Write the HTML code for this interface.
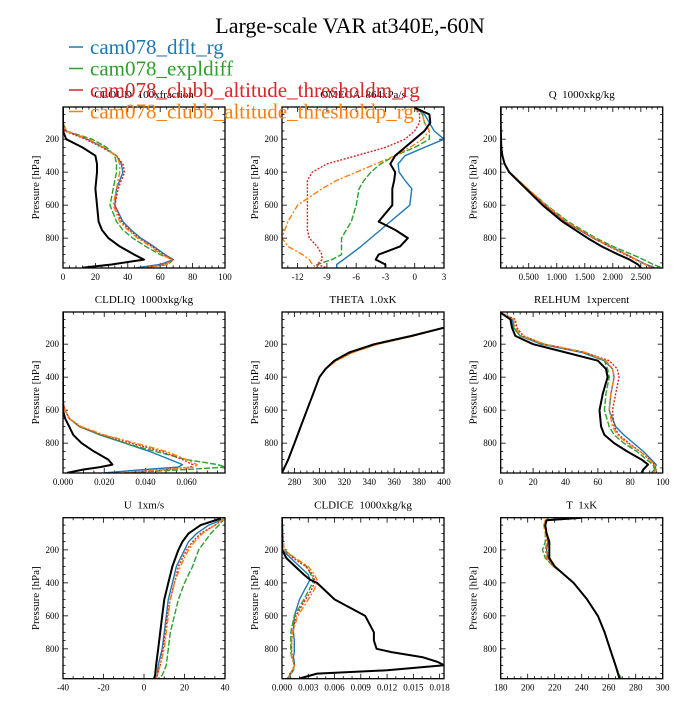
<!DOCTYPE html>
<html><head><meta charset="utf-8"><style>
body{margin:0;background:#fff;width:700px;height:700px;overflow:hidden}
svg{font-family:"Liberation Serif",serif}
text{white-space:pre}
</style></head><body>
<svg id="c" width="700" height="700">
<text x="350" y="33" font-size="22" text-anchor="middle">Large-scale VAR at340E,-60N</text>
</svg>
<script>
const seriesNames=["cam078_dflt_rg","cam078_expldiff","cam078_clubb_altitude_thresholdm_rg","cam078_clubb_altitude_thresholdp_rg","obs"];
const colors=["#1f77b4","#2ca02c","#d62728","#ff7f0e","#000"];
const dashes=["","6,2","2,1.5","6,2,2,2",""];

const cloudLev=[10,100,150,200,250,300,350,400,500,600,700,750,800,850,900,930,960,980];
const cloudBlue=[0,0,2,15,25,33,36,37,33,32,37,42,48,56,63,68,60,45];
const cloudGreen=[0,0,2,18,27,32,33,33,31,29,33,37,43,51,60,68,65,50];
const cloudRed=[0,0,1,14,24,33,37,38,34,32,36,41,47,55,62,68,62,50];
const cloudOrange=[0,0,2,16,25,33,35,35,33,31,35,40,46,54,61,67,64,50];
const cloudBlack=[0,0,0,2,12,20,21,21,20,21,22,24,28,35,44,50,30,12];

const omegaLev=[10,50,100,150,200,250,300,350,400,450,500,600,700,750,800,850,900,930,960,980];
const omegaBlue=[0,1,1.5,2,3,1,-1,-1.7,-1.6,-1,-0.3,-0.5,-2.5,-3.5,-4.5,-5.5,-6.6,-7.3,-8,-8];
const omegaGreen=[0,0.8,1,1.5,1.5,0,-2,-3.5,-4.5,-5.2,-5.7,-6,-6.5,-7,-7.5,-7.5,-7.5,-8.5,-10,-10];
const omegaRed=[0,0.5,0.5,0,-1,-3,-6,-9,-10.5,-11,-11,-11,-11,-11,-10.8,-10,-9.5,-9.5,-10,-9];
const omegaOrange=[0,0.8,1,1.5,0.8,-0.5,-2,-4,-6,-8,-9.5,-12,-13,-13.3,-13.6,-13,-11.5,-10.8,-10.5,-10];
const omegaBlack=[0,1.5,1.6,1,0,-1,-2,-2.5,-2,-2.1,-2.3,-2.3,-3.7,-2,-0.7,-1.5,-3.7,-4,-3,-3];

const qLev=[10,100,200,250,300,350,400,500,600,700,800,850,900,930,960,980];
const qBlue=[0,0,0.005,0.01,0.03,0.07,0.16,0.47,0.8,1.15,1.65,1.95,2.25,2.42,2.6,2.75];
const qGreen=[0,0,0.005,0.01,0.03,0.07,0.16,0.48,0.82,1.2,1.7,2.0,2.35,2.55,2.72,2.88];
const qRed=[0,0,0.005,0.01,0.03,0.07,0.16,0.47,0.8,1.15,1.65,1.93,2.22,2.4,2.58,2.72];
const qOrange=[0,0,0.005,0.01,0.03,0.07,0.16,0.48,0.81,1.17,1.67,1.95,2.25,2.42,2.58,2.7];
const qBlack=[0,0,0.005,0.01,0.03,0.07,0.15,0.45,0.75,1.1,1.55,1.8,2.1,2.3,2.45,2.5];

const liqLev=[10,550,600,650,700,750,800,850,900,930,945,960,980];
const liqBlue=[0,0,0.001,0.003,0.008,0.018,0.03,0.042,0.052,0.058,0.056,0.04,0.02];
const liqGreen=[0,0,0.001,0.003,0.008,0.018,0.03,0.045,0.06,0.075,0.079,0.06,0.03];
const liqRed=[0,0,0.001,0.003,0.008,0.019,0.033,0.048,0.058,0.063,0.062,0.05,0.03];
const liqOrange=[0,0,0.001,0.003,0.009,0.02,0.035,0.05,0.06,0.065,0.064,0.05,0.03];
const liqBlack=[0,0,0,0.001,0.003,0.005,0.009,0.015,0.022,0.024,0.018,0.01,0.002];

const thLev=[5,100,150,200,250,300,350,400,500,600,700,800,900,980];
const thBlue=[420,400,375,346,326,313,305,300,295,290,285,280,275,270];
const thGreen=[420,400,375,346,326,313,305,300,295,290,285,280,275,270];
const thRed=[420,400,375,346,326,313,305,300,295,290,285,280,275,270];
const thOrange=[420,400,376,347,327,314,305,300,295,290,285,280,275,270];
const thBlack=[420,400,374,344,324,312,305,300,295,290,285,280,275,270];

const rhLev=[10,50,100,150,200,250,300,350,400,500,600,700,750,800,850,900,930,960,980];
const rhBlue=[0,7,8,12,25,50,64,69,70,68,67,71,76,82,88,93,96,95,93];
const rhGreen=[0,8,8,12,27,52,64,66,67,65,64,67,70,76,84,90,94,95,93];
const rhRed=[0,9,10,14,27,52,67,72,73,71,69,70,73,79,86,92,95,96,94];
const rhOrange=[0,8,9,13,27,52,65,69,70,68,67,69,72,78,86,92,95,96,94];
const rhBlack=[0,6,7,9,20,40,60,65,66,63,61,62,64,70,78,87,91,88,87];

const uLev=[10,50,100,150,200,300,400,500,600,700,800,900,960,980];
const uBlue=[40,32,26,22,20,16,14,12,11,10,9,7,6.5,6];
const uGreen=[40,37,33,30,27,24,20,17,15,13,12,11,9,7];
const uRed=[40,35,28,24,21,17,15,13,11.5,10.5,9.5,8,6.5,6];
const uOrange=[40,35,29,25,22,18,15,13,12,11,10,8,6.5,6];
const uBlack=[38,28,22,19,17,14,12,10,9,8,7,6,5.5,5];

const iceLev=[10,200,250,300,350,380,400,450,500,600,700,750,800,820,850,880,900,930,950,980];
const iceBlue=[0,0,0.001,0.002,0.003,0.0032,0.003,0.0025,0.002,0.0014,0.0013,0.0014,0.0014,0.0014,0.0013,0.0014,0.0014,0.0013,0.001,0.0006];
const iceGreen=[0,0.0002,0.0015,0.0028,0.0033,0.0036,0.0035,0.003,0.0025,0.0014,0.001,0.001,0.001,0.001,0.0011,0.0013,0.0014,0.0013,0.001,0.0008];
const iceRed=[0,0.0002,0.0013,0.0027,0.0035,0.0037,0.0037,0.0033,0.0027,0.0016,0.0012,0.0011,0.0011,0.0011,0.0012,0.0013,0.0014,0.0012,0.0009,0.0008];
const iceOrange=[0,0.0002,0.0015,0.003,0.0037,0.004,0.004,0.0036,0.003,0.0018,0.0012,0.0011,0.0011,0.0011,0.0011,0.0013,0.0014,0.0012,0.0009,0.0008];
const iceBlack=[0,0,0.0005,0.0015,0.0025,0.0032,0.004,0.005,0.006,0.0095,0.0105,0.0105,0.0108,0.0125,0.016,0.0178,0.0185,0.012,0.004,0.002];

const tLev=[5,20,50,100,150,200,250,300,350,400,500,600,700,800,900,980];
const tBlue=[240,214,213,214,215,214,215,220,227,234,244,252,257,261,265,268];
const tGreen=[240,213,212,213,213,211,213,219,227,234,244,252,257,261,265,269];
const tRed=[240,214,213,214,215,214,215,220,227,234,244,252,257,261,265,268];
const tOrange=[240,213,212,213,214,213,214,219,227,234,244,252,257,261,265,268];
const tBlack=[240,214,213,214,216,216,216,220,227,234,244,252,257,261,265,268];

const panels=[
 {name:"cloud",title:"CLOUD  100xfraction",col:0,row:0,xmin:0,xmax:100,ticks:[0,20,40,60,80,100],labels:["0","20","40","60","80","100"],minor:5,lev:cloudLev,s:[cloudBlue,cloudGreen,cloudRed,cloudOrange,cloudBlack]},
 {name:"omega",title:"OMEGA  864xPa/s",col:1,row:0,xmin:-13.6,xmax:3,ticks:[-12,-9,-6,-3,0,3],labels:["-12","-9","-6","-3","0","3"],minor:3,lev:omegaLev,s:[omegaBlue,omegaGreen,omegaRed,omegaOrange,omegaBlack]},
 {name:"q",title:"Q  1000xkg/kg",col:2,row:0,xmin:0,xmax:2.89,ticks:[0.5,1,1.5,2,2.5],labels:["0.500","1.000","1.500","2.000","2.500"],minor:5,lev:qLev,s:[qBlue,qGreen,qRed,qOrange,qBlack]},
 {name:"cldliq",title:"CLDLIQ  1000xkg/kg",col:0,row:1,xmin:0,xmax:0.0786,ticks:[0,0.02,0.04,0.06],labels:["0.000","0.020","0.040","0.060"],minor:4,lev:liqLev,s:[liqBlue,liqGreen,liqRed,liqOrange,liqBlack]},
 {name:"theta",title:"THETA  1.0xK",col:1,row:1,xmin:270,xmax:400,ticks:[280,300,320,340,360,380,400],labels:["280","300","320","340","360","380","400"],minor:4,lev:thLev,s:[thBlue,thGreen,thRed,thOrange,thBlack]},
 {name:"relhum",title:"RELHUM  1xpercent",col:2,row:1,xmin:0,xmax:100,ticks:[0,20,40,60,80,100],labels:["0","20","40","60","80","100"],minor:5,lev:rhLev,s:[rhBlue,rhGreen,rhRed,rhOrange,rhBlack]},
 {name:"u",title:"U  1xm/s",col:0,row:2,xmin:-40,xmax:40,ticks:[-40,-20,0,20,40],labels:["-40","-20","0","20","40"],minor:4,lev:uLev,s:[uBlue,uGreen,uRed,uOrange,uBlack]},
 {name:"cldice",title:"CLDICE  1000xkg/kg",col:1,row:2,xmin:0,xmax:0.0185,ticks:[0,0.003,0.006,0.009,0.012,0.015,0.018],labels:["0.000","0.003","0.006","0.009","0.012","0.015","0.018"],minor:3,lev:iceLev,s:[iceBlue,iceGreen,iceRed,iceOrange,iceBlack]},
 {name:"t",title:"T  1xK",col:2,row:2,xmin:180,xmax:300,ticks:[180,200,220,240,260,280,300],labels:["180","200","220","240","260","280","300"],minor:4,lev:tLev,s:[tBlue,tGreen,tRed,tOrange,tBlack]}
];
const colX=[63,282,500.7],rowY=[107,312,517.7],W=162,H=161;
const PMIN=5,PMAX=981;
const NS="http://www.w3.org/2000/svg";
const svg=document.getElementById("c");
function mk(tag,attrs,parent){const e=document.createElementNS(NS,tag);for(const k in attrs)e.setAttribute(k,attrs[k]);(parent||svg).appendChild(e);return e;}

panels.forEach((P,pi)=>{
 const x0=colX[P.col],y0=rowY[P.row];
 const g=mk("g",{});
 
 
 const xs=v=>x0+(v-P.xmin)/(P.xmax-P.xmin)*W;
 const ys=p=>y0+(p-PMIN)/(PMAX-PMIN)*H;
 const cp=mk("clipPath",{id:"cp"+pi},g);mk("rect",{x:x0,y:y0,width:W,height:H},cp);
 const t=mk("text",{x:x0+W/2,y:y0-9,"font-size":11,"text-anchor":"middle"},g);t.textContent=P.title;
 
 
 const yl=mk("text",{x:0,y:0,"font-size":11,"text-anchor":"middle",transform:`translate(${x0-24},${y0+H/2}) rotate(-90)`},g);yl.textContent="Pressure [hPa]";
 
 
 for(let p=50;p<PMAX;p+=50){const y=ys(p);const maj=p%200===0;const L=maj?5:2.5;
  mk("line",{x1:x0,x2:x0+L,y1:y,y2:y,stroke:"#000","stroke-width":0.8},g);
  mk("line",{x1:x0+W,x2:x0+W-L,y1:y,y2:y,stroke:"#000","stroke-width":0.8},g);
  if(maj){const tl=mk("text",{x:x0-4,y:y+3,"font-size":9,"text-anchor":"end"},g);tl.textContent=p;
   
   }
 }
 const step=P.ticks[1]-P.ticks[0],ms=step/P.minor;
 const start=P.ticks[0]-Math.floor((P.ticks[0]-P.xmin)/ms)*ms;
 for(let v=start;v<=P.xmax+1e-9;v+=ms){const x=xs(v);if(x<x0-0.1||x>x0+W+0.1)continue;
  const k=Math.round((v-P.ticks[0])/ms);const maj=k%P.minor===0;const L=maj?5:2.5;
  mk("line",{x1:x,x2:x,y1:y0+H,y2:y0+H-L,stroke:"#000","stroke-width":0.8},g);
  mk("line",{x1:x,x2:x,y1:y0,y2:y0+L,stroke:"#000","stroke-width":0.8},g);}
 P.ticks.forEach((v,i)=>{const tl=mk("text",{x:xs(v),y:y0+H+12,"font-size":9,"text-anchor":"middle"},g);tl.textContent=P.labels[i];
  
  });
 const lg=mk("g",{"clip-path":`url(#cp${pi})`},g);
 P.s.forEach((arr,si)=>{
  const d=arr.map((v,i)=>(i?"L":"M")+xs(v).toFixed(1)+","+ys(P.lev[i]).toFixed(1)).join("");
  const pa=mk("path",{d:d,fill:"none",stroke:colors[si],"stroke-width":si===4?2:1.4,"stroke-dasharray":dashes[si],"stroke-linejoin":"round"},lg);
  
  
 });
 mk("rect",{x:x0,y:y0,width:W,height:H,fill:"none",stroke:"#000","stroke-width":1.3},g);
});
[0,1,2,3].forEach(i=>{
 const y=47+i*21.5;
 const l=mk("line",{x1:69,x2:83,y1:y,y2:y,stroke:colors[i],"stroke-width":1.5});
 
 
 const t=mk("text",{x:90,y:y+7,"font-size":21,fill:colors[i]});t.textContent=seriesNames[i];
 
 
});
</script>
</body></html>
